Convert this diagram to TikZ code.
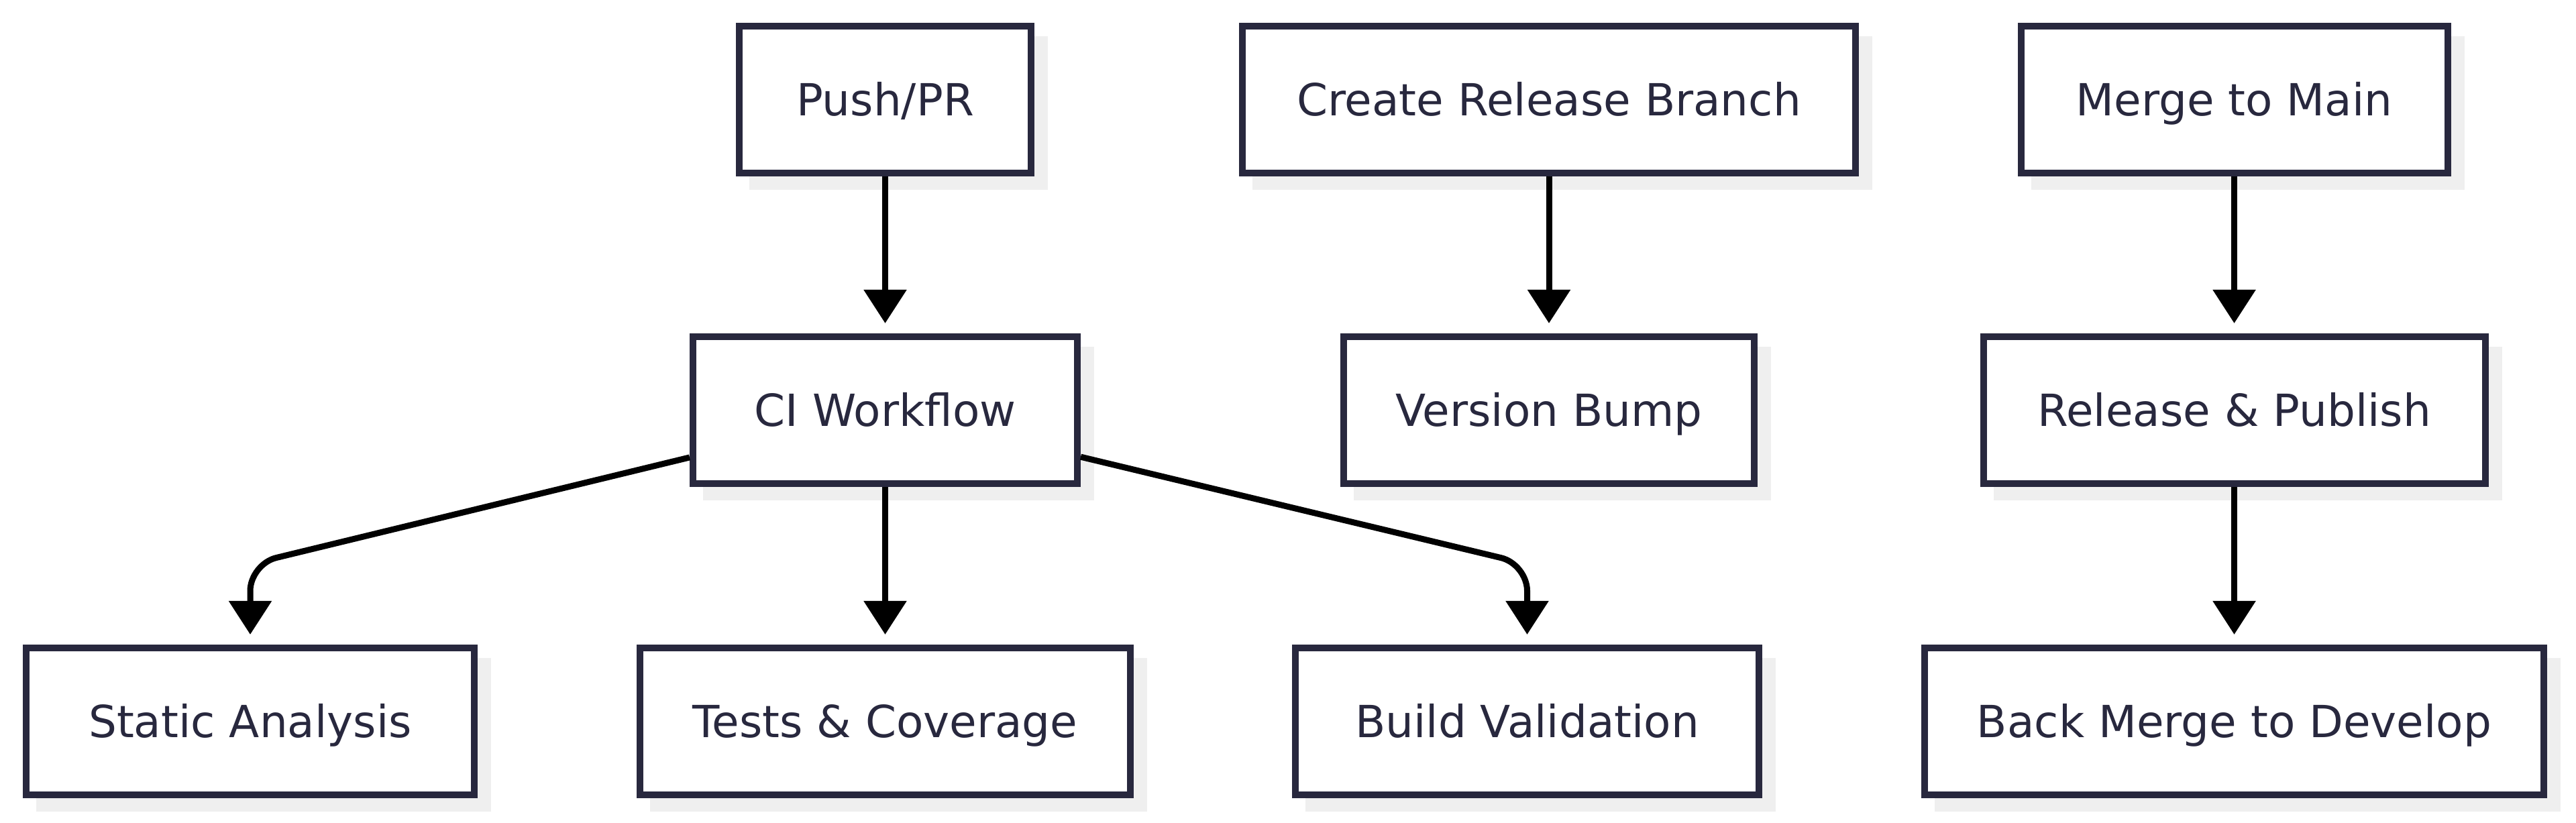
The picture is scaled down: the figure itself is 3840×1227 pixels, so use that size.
\documentclass[tikz,border=0pt]{standalone}
\usepackage{fontspec}
\setmainfont{DejaVu Sans}
\usetikzlibrary{arrows.meta,backgrounds}

\definecolor{boxnavy}{RGB}{40,40,62}
\definecolor{shadowgrey}{RGB}{239,239,239}

\tikzset{every picture/.style={line width=2.25pt}}
\tikzset{
  stage/.style={draw=boxnavy, line width=2.5pt, fill=white, text=boxnavy,
    minimum width=#1, minimum height=54.75pt, inner sep=0pt,
    font=\fontsize{16.5pt}{20pt}\selectfont, text height=12pt, text depth=0pt},
  flow/.style={draw=black, line width=2.25pt, -{Triangle[width=15.5pt,length=12.5pt]}, shorten >=3.75pt},
}

\begin{document}
\begin{tikzpicture}[x=0.25pt,y=0.25pt,yscale=-1,xscale=1]
	\useasboundingbox (0,0) rectangle (3840,1227);
	
	% Top row
	\node[stage=108.75pt] (push) at (1319.5,148.5) {Push/PR};
	\node[stage=228.5pt] (branch) at (2309,148.5) {Create Release Branch};
	\node[stage=159pt] (main) at (3330.5,148.5) {Merge to Main};
	% Middle row
	\node[stage=143.25pt] (ci) at (1319.5,611.5) {CI Workflow};
	\node[stage=153pt] (bump) at (2309,611.5) {Version Bump};
	\node[stage=187pt] (publish) at (3330.5,611.5) {Release \& Publish};
	% Bottom row
	\node[stage=167pt] (static) at (373,1075.5) {Static Analysis};
	\node[stage=182.75pt] (tests) at (1319.5,1075.5) {Tests \& Coverage};
	\node[stage=172.75pt] (build) at (2276.5,1075.5) {Build Validation};
	\node[stage=230.75pt] (backmerge) at (3330.5,1075.5) {Back Merge to Develop};
	
	% Bend points
	\coordinate (sbend) at (373,841);
	\coordinate (bbend) at (2276.5,841);
	
	% Arrows
	\draw[flow] (push) -- (ci);
	\draw[flow] (branch) -- (bump);
	\draw[flow] (main) -- (publish);
	\draw[flow] (ci) -- (tests);
	\draw[flow] (publish) -- (backmerge);
	\draw[flow, rounded corners=10pt] (ci) -- (sbend) -- (static);
	\draw[flow, rounded corners=10pt] (ci) -- (bbend) -- (build);
	
	% Shadows
	\begin{scope}[on background layer]
		\foreach \n in {push,branch,main,ci,bump,publish,static,tests,build,backmerge}
		\fill[shadowgrey] ([shift={(20,20)}]\n.north west) rectangle ([shift={(20,20)}]\n.south east);
	\end{scope}
	
\end{tikzpicture}
\end{document}
